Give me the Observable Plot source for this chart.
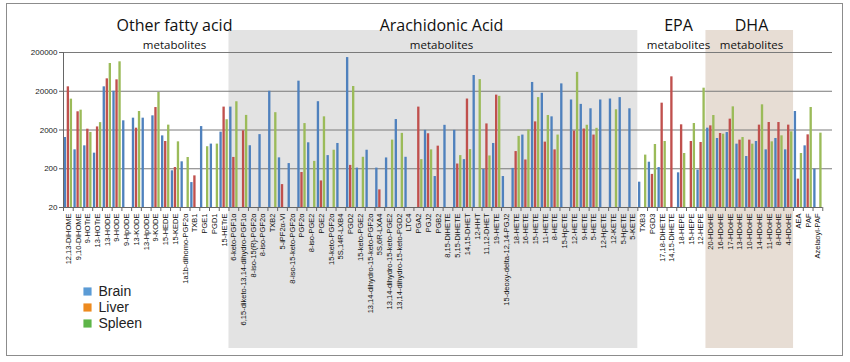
<!DOCTYPE html>
<html><head><meta charset="utf-8">
<script src="https://cdn.jsdelivr.net/npm/d3@7"></script>
<script src="https://cdn.jsdelivr.net/npm/@observablehq/plot@0.6"></script>
<style>
body{margin:0;background:#fff;}
#chart{width:850px;height:362px;}
</style></head><body><div id="chart"></div>
<script>
const categories = [
"12,13-DiHOME","9,10-DiHOME","9-HOTrE","13-HOTrE","13-HODE","9-HODE","9-HpODE","13-KODE","13-HpODE","9-KODE","15-HEDE","15-KEDE","1a1b-dihomo-PGF2α","TXB1","PGE1","PGD1","15-HETrE",
"6-keto-PGF1α","6,15-diketo-13,14-dihydro-PGF1α","8-iso-15(R)-PGF2α","8-iso-PGF2α","TXB2","5-iPF2α-VI","8-iso-15-keto-PGF2α","PGF2α","8-iso-PGE2","PGE2","15-keto-PGF2α","5S,14R-LXB4","PGD2","15-keto-PGE2","13,14-dihydro-15-keto-PGF2α","5S,6R-LXA4","13,14-dihydro-15-keto-PGE2","13,14-dihydro-15-keto-PGD2","LTC4","PGA2","PGJ2","PGB2","8,15-DiHETE","5,15-DiHETE","14,15-DHET","12-HHT","11,12-DHET","19-HETE","15-deoxy-delta-12,14-PGJ2","18-HETE","16-HETE","15-HETE","11-HETE","8-HETE","15-HpETE","12-HETE","9-HETE","5-HETE","12-HpETE","12-KETE","5-HpETE","5-KETE",
"TXB3","PGD3","17,18-DiHETE","14,15-DiHETE","18-HEPE","15-HEPE","12-HEPE",
"20-HDoHE","16-HDoHE","17-HDoHE","13-HDoHE","10-HDoHE","14-HDoHE","11-HDoHE","8-HDoHE","4-HDoHE",
"AEA","PAF","Azelaoyl-PAF"];

const brain = [1280,615,780,505,26000,20000,3450,4040,4040,4640,1410,177,302,88,2450,865,1760,
7800,null,785,1520,20000,382,272,36400,935,10750,437,898,148000,208,601,208,380,3720,395,null,1960,126,2640,1960,344,51000,192,898,126,204,1480,33700,17700,4370,31000,11900,9160,7060,11900,12600,13700,7060,
90,295,215,null,157,null,184,
2230,1208,1720,862,414,1010,615,1208,615,
6000,780,195];

const liver = [26000,5900,2100,2400,41800,39400,null,2230,null,7600,1010,215,null,131,null,null,7800,
392,1900,null,null,null,78,null,160,null,97,null,null,244,null,null,57,null,null,null,7800,1600,766,null,265,12600,null,2870,15900,null,555,337,3240,973,614,null,1880,2120,1480,null,null,null,null,
null,143,9850,47100,2720,1010,952,
2560,1625,3810,1094,1094,2670,3120,3120,2670,
108,1500,null];

const spleen = [12500,6500,1730,3100,104000,115000,null,6000,null,18600,2670,990,390,null,740,865,3680,
10700,4760,null,null,5600,null,null,2930,310,4370,601,null,26500,395,null,null,1097,1637,null,344,614,null,null,437,624,40000,428,14800,null,1368,2000,13700,4730,1480,null,61400,2650,2210,null,6650,null,null,
450,845,1010,null,495,2940,24000,
4730,1560,7920,1280,862,8930,990,1415,1795,
495,7620,1660];

const seriesNames = ["Brain","Liver","Spleen"];
const barColors = ["#4F81BD","#C0504D","#9BBB59"];
const legendColors = ["#5B9BD5","#ED8A1F","#5DB548"];
const yTicks = [20,200,2000,20000,200000];
const gridTicks = [200,2000,20000,200000];

// group titles: [title, subtitle, pixel center]
const groupTitles = [
  ["Other fatty acid","metabolites",174],
  ["Arachidonic Acid","metabolites",441],
  ["EPA","metabolites",678],
  ["DHA","metabolites",751]
];
// shaded groups: first / last category, fill
const shaded = [
  ["6-keto-PGF1α","5-KETE","#e3e3e3"],
  ["20-HDoHE","4-HDoHE","#e7ddd4"]
];

const rows = [];
[brain, liver, spleen].forEach((arr, s) => {
  arr.forEach((v, i) => { if (v != null) rows.push({i, s, series: seriesNames[s], cat: categories[i], value: v}); });
});

const n = categories.length;
const off = 0.31, bw = 0.24;
const W = 850, H = 362, ML = 63, MR = 18, MT = 52, MB = 155;

const marks = [
  Plot.ruleY(gridTicks, {stroke: "#7a7a7a", strokeWidth: 1}),
  Plot.rectY(rows, {
    x1: d => d.i + 0.5 + (d.s - 1) * off - bw / 2,
    x2: d => d.i + 0.5 + (d.s - 1) * off + bw / 2,
    y1: 20, y2: "value", fill: "series"
  }),
  Plot.ruleY([20], {x1: 0, x2: n, stroke: "#666"}),
  Plot.ruleX([0], {y1: 20, y2: 200000, stroke: "#666"}),
  Plot.axisY({ticks: yTicks, tickFormat: d => String(d), tickSize: 4, tickPadding: 2, fontSize: 8, label: null, stroke: "#666", fill: "#222"}),
  Plot.axisX({ticks: d3.range(0, n + 1), tickSize: 4, tickFormat: () => "", label: null, stroke: "#666"}),
  Plot.axisX({ticks: d3.range(n).map(i => i + 0.5), tickSize: 0, tickPadding: 6, tickRotate: -90,
    tickFormat: v => categories[Math.floor(v)], fontSize: 7.5, label: null, fill: "#111",
    fontFamily: "Liberation Sans, Arial, sans-serif"})
];

groupTitles.forEach(([t, s, px]) => {
  marks.push(Plot.text([t], {frameAnchor: "top-left", dx: px - ML, dy: -21.5, textAnchor: "middle", lineAnchor: "bottom", fontSize: 16, fill: "#111", fontFamily: "Open Sans, sans-serif"}));
  marks.push(Plot.text([s], {frameAnchor: "top-left", dx: px - ML, dy: -3.5, textAnchor: "middle", lineAnchor: "bottom", fontSize: 11.5, fill: "#111", fontFamily: "Open Sans, sans-serif"}));
});

seriesNames.forEach((name, k) => {
  marks.push(Plot.dot([name], {frameAnchor: "bottom-left", dx: 87 - ML, dy: 84 + 16 * k, symbol: "square", r: 4.6, fill: legendColors[k], stroke: "none"}));
  marks.push(Plot.text([name], {frameAnchor: "bottom-left", dx: 98 - ML, dy: 84 + 16 * k, text: d => d, textAnchor: "start", lineAnchor: "middle", fontSize: 14, fill: "#222", fontFamily: "Liberation Sans, Arial, sans-serif"}));
});

const plot = Plot.plot({
  width: W, height: H,
  marginLeft: ML, marginRight: MR, marginTop: MT, marginBottom: MB,
  x: {type: "linear", domain: [0, n + 1]},
  y: {type: "log", domain: [20, 200000]},
  color: {domain: seriesNames, range: barColors},
  style: {background: "white", fontFamily: "Liberation Sans, Arial, sans-serif"},
  marks
});

const svg = d3.select(plot);
const xs = plot.scale("x");
shaded.slice().reverse().forEach(([a, b, fill]) => {
  const x1 = xs.apply(categories.indexOf(a));
  const x2 = xs.apply(categories.indexOf(b) + 1);
  svg.insert("rect", ":first-child")
    .attr("x", x1).attr("y", 30).attr("width", x2 - x1).attr("height", 318)
    .attr("fill", fill);
});
svg.append("rect").attr("x", 6.5).attr("y", 3.5).attr("width", 836).attr("height", 352)
  .attr("fill", "none").attr("stroke", "#8c8c8c");

document.getElementById("chart").appendChild(plot);
</script></body></html>
